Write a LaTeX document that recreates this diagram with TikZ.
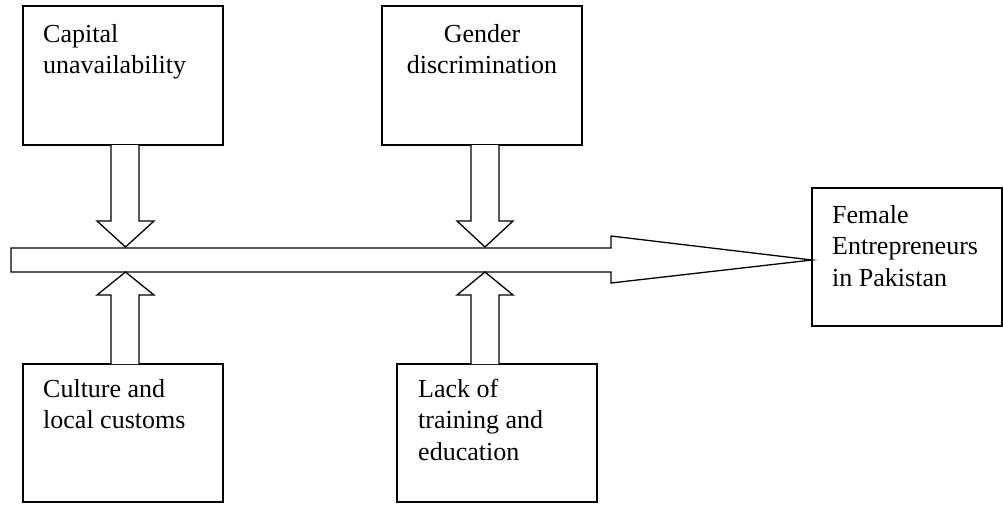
\documentclass[tikz,border=0pt]{standalone}
\usepackage{fontspec}
\setmainfont{Liberation Serif}
\begin{document}
\begin{tikzpicture}[x=1pt,y=-1pt,
  box/.style={draw=black,line width=1.4pt,fill=white},
  blockarrow/.style={draw=black,line width=1.3pt,fill=white,line join=miter},
  lbl/.style={inner sep=0pt,font=\fontsize{26}{31.4}\selectfont,align=left,anchor=base west},
  clbl/.style={inner sep=0pt,font=\fontsize{26}{31.4}\selectfont,align=center,anchor=base}]
\useasboundingbox (0,0) rectangle (1003,504);
% boxes
\draw[box] (23,6) rectangle (223,145);
\draw[box] (382,6) rectangle (582,145);
\draw[box] (23,364) rectangle (223,502);
\draw[box] (397,364) rectangle (597,502);
\draw[box] (812,188) rectangle (1002,326);
% main arrow
\coordinate (tip) at (812,260);
\draw[blockarrow] (11,248) -- (611,248) -- (611,236) -- (tip) -- (611,283) -- (611,272) -- (11,272) -- cycle;
% down arrows
\draw[blockarrow] (111,145) -- (111,221) -- (97,221) -- (125.5,247) -- (154,221) -- (139,221) -- (139,145);
\draw[blockarrow] (471,145) -- (471,221) -- (457,221) -- (485,247) -- (513,221) -- (499,221) -- (499,145);
% up arrows
\draw[blockarrow] (111,364) -- (111,295) -- (97,295) -- (125.5,272) -- (154,295) -- (139,295) -- (139,364);
\draw[blockarrow] (471,364) -- (471,295) -- (457,295) -- (485,272) -- (513,295) -- (499,295) -- (499,364);
% texts
\node[lbl] (cap1) at (43,42) {Capital};
\node[lbl] (cap2) at (43,73) {unavailability};
\node[clbl] (gen1) at (482,42) {Gender};
\node[clbl] (gen2) at (482,73) {discrimination};
\node[lbl] (cul1) at (43,397) {Culture and};
\node[lbl] (cul2) at (43,428) {local customs};
\node[lbl] (lac1) at (418,397) {Lack of};
\node[lbl] (lac2) at (418,428) {training and};
\node[lbl] (lac3) at (418,460) {education};
\node[lbl] (fem1) at (832,223) {Female};
\node[lbl] (fem2) at (832,254) {Entrepreneurs};
\node[lbl] (fem3) at (832,286) {in Pakistan};
\end{tikzpicture}
\end{document}
